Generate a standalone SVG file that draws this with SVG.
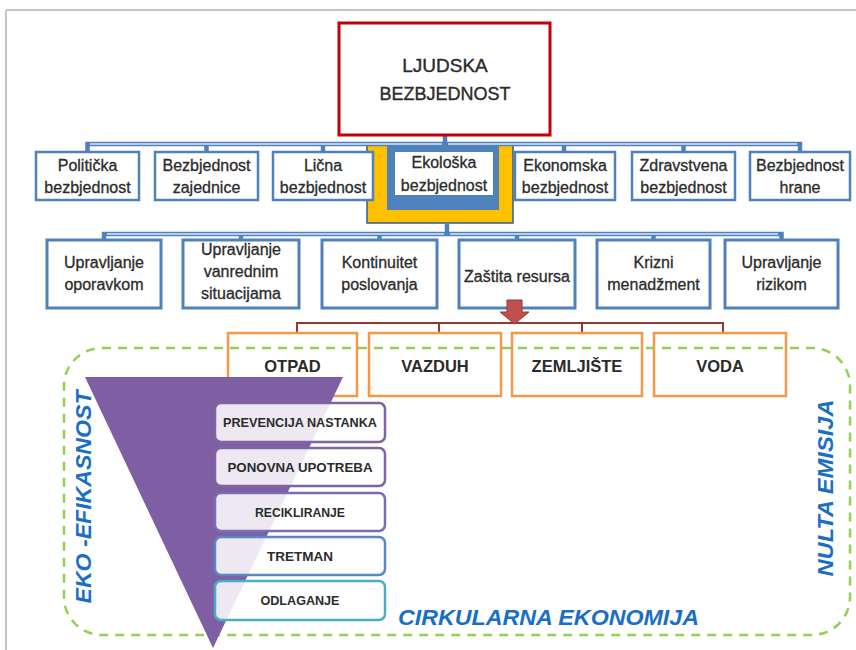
<svg xmlns="http://www.w3.org/2000/svg" width="856" height="650" viewBox="0 0 856 650">
<style>
  .t { font-family: "Liberation Sans", Arial, sans-serif; fill: #2b2b2b; text-anchor: middle; }
  .r2 { font-size: 16px; stroke: #2b2b2b; stroke-width: 0.3; }
  .top { font-size: 19px; stroke: #2b2b2b; stroke-width: 0.4; }
  .org { font-size: 16.5px; font-weight: bold; }
  .stk { font-size: 12.5px; font-weight: bold; }
  .blue { font-family: "Liberation Sans", Arial, sans-serif; font-size: 22px; font-weight: bold; font-style: italic; fill: #1a6fc4; text-anchor: middle; }
  .bx { fill: #ffffff; stroke: #4f81bd; stroke-width: 2.5; }
  .bx3 { fill: #ffffff; stroke: #4f81bd; stroke-width: 3; }
  .ob { fill: #ffffff; stroke: #f79646; stroke-width: 2.5; }
  .sb { fill: #ffffff; fill-opacity: 0.86; stroke-width: 2.5; }
  .conn { fill: none; stroke: #4f81bd; stroke-width: 4.5; }
  .connIn { fill: none; stroke: #dce6f2; stroke-width: 1.4; }
  .red { fill: none; stroke: #953735; stroke-width: 2; }
</style>

<!-- frame -->
<line x1="6" y1="10" x2="856" y2="10" stroke="#c4c4c4" stroke-width="2"/>
<line x1="6" y1="10" x2="6" y2="650" stroke="#c4c4c4" stroke-width="2"/>

<!-- yellow highlight behind Ekološka -->
<rect x="367" y="145" width="146" height="78" fill="#ffc000" stroke="#2e5d9a" stroke-width="1.5"/>

<g id="connectors">
  <path class="conn" d="M445 135 V144 M87.5 152 V144 H800 V152 M206.5 144 V152 M323 144 V152 M564 144 V152 M683.5 144 V152"/>
  <path class="connIn" d="M90 144 H442 M448 144 H797"/>
  <path class="conn" d="M447 223 V234 M104 240 V234 H781.5 V240 M241 234 V240 M379.5 234 V240 M517 234 V240 M653.5 234 V240"/>
  <path class="connIn" d="M107 234 H444 M450 234 H778"/>
  <path class="red" d="M297 333 V323 H723 V333 M439 323 V333 M582 323 V333"/>
</g>

<g id="ljudska">
  <rect x="339" y="23" width="211" height="112" fill="#ffffff" stroke="#c0000c" stroke-width="3"/>
  <text class="t top" x="445" y="72">LJUDSKA</text>
  <text class="t top" x="445" y="100" textLength="131" lengthAdjust="spacingAndGlyphs">BEZBJEDNOST</text>
</g>

<g id="politicka">
  <rect class="bx" x="36" y="152" width="103" height="48"/>
  <text class="t r2" x="87.5" y="171">Politička</text>
  <text class="t r2" x="87.5" y="193">bezbjednost</text>
</g>
<g id="zajednice">
  <rect class="bx" x="155" y="152" width="103" height="48"/>
  <text class="t r2" x="206.5" y="171">Bezbjednost</text>
  <text class="t r2" x="206.5" y="193">zajednice</text>
</g>
<g id="licna">
  <rect class="bx" x="273" y="152" width="100" height="48"/>
  <text class="t r2" x="323" y="171">Lična</text>
  <text class="t r2" x="323" y="193">bezbjednost</text>
</g>
<g id="ekoloska">
  <rect x="387" y="145" width="112" height="65" fill="#4f81bd"/>
  <rect x="395" y="152" width="98" height="43" fill="#ffffff"/>
  <text class="t r2" x="444" y="168">Ekološka</text>
  <text class="t r2" x="444" y="191">bezbjednost</text>
</g>
<g id="ekonomska">
  <rect class="bx" x="515" y="152" width="100" height="48"/>
  <text class="t r2" x="565" y="171">Ekonomska</text>
  <text class="t r2" x="565" y="193">bezbjednost</text>
</g>
<g id="zdravstvena">
  <rect class="bx" x="632" y="152" width="103" height="48"/>
  <text class="t r2" x="683.5" y="171">Zdravstvena</text>
  <text class="t r2" x="683.5" y="193">bezbjednost</text>
</g>
<g id="hrane">
  <rect class="bx" x="750" y="152" width="100" height="48"/>
  <text class="t r2" x="800" y="171">Bezbjednost</text>
  <text class="t r2" x="800" y="193">hrane</text>
</g>

<g id="oporavkom">
  <rect class="bx3" x="47" y="240" width="114" height="68"/>
  <text class="t r2" x="104" y="268">Upravljanje</text>
  <text class="t r2" x="104" y="290">oporavkom</text>
</g>
<g id="vanrednim">
  <rect class="bx3" x="183" y="240" width="116" height="68"/>
  <text class="t r2" x="241" y="255">Upravljanje</text>
  <text class="t r2" x="241" y="277">vanrednim</text>
  <text class="t r2" x="241" y="299">situacijama</text>
</g>
<g id="kontinuitet">
  <rect class="bx3" x="322" y="240" width="115" height="68"/>
  <text class="t r2" x="379.5" y="268">Kontinuitet</text>
  <text class="t r2" x="379.5" y="290">poslovanja</text>
</g>
<g id="zastita">
  <rect class="bx3" x="459" y="240" width="116" height="68"/>
  <text class="t r2" x="517" y="282">Zaštita resursa</text>
</g>
<g id="krizni">
  <rect class="bx3" x="597" y="240" width="113" height="68"/>
  <text class="t r2" x="653.5" y="268">Krizni</text>
  <text class="t r2" x="653.5" y="290">menadžment</text>
</g>
<g id="rizikom">
  <rect class="bx3" x="725" y="240" width="113" height="68"/>
  <text class="t r2" x="781.5" y="268">Upravljanje</text>
  <text class="t r2" x="781.5" y="290">rizikom</text>
</g>

<!-- red arrow from Zaštita resursa -->
<polygon id="red-arrow" points="507,300 522,300 522,312 529,312 514.5,324 500,312 507,312" fill="#c0504d" stroke="#953735" stroke-width="1"/>

<g id="otpad">
  <rect class="ob" x="228" y="333" width="129" height="63"/>
  <text class="t org" x="292.5" y="372">OTPAD</text>
</g>
<g id="vazduh">
  <rect class="ob" x="369" y="333" width="132" height="63"/>
  <text class="t org" x="435" y="372">VAZDUH</text>
</g>
<g id="zemljiste">
  <rect class="ob" x="512" y="333" width="130" height="63"/>
  <text class="t org" x="577" y="372">ZEMLJIŠTE</text>
</g>
<g id="voda">
  <rect class="ob" x="654" y="333" width="132" height="63"/>
  <text class="t org" x="720" y="372">VODA</text>
</g>

<!-- circular economy dashed region -->
<rect x="64" y="348" width="786" height="287" rx="38" ry="38" fill="none" stroke="#92d050" stroke-width="2.5" stroke-dasharray="9 7"/>

<!-- waste hierarchy triangle -->
<polygon points="85,377 343,377 213,648" fill="#7e5fa3"/>

<g id="prevencija">
  <rect class="sb" x="215" y="403" width="170" height="39" rx="6" stroke="#8064a2"/>
  <text class="t stk" x="300" y="427" textLength="154" lengthAdjust="spacingAndGlyphs">PREVENCIJA NASTANKA</text>
</g>
<g id="ponovna">
  <rect class="sb" x="215" y="448" width="170" height="38" rx="6" stroke="#8064a2"/>
  <text class="t stk" x="300" y="471.5" textLength="145" lengthAdjust="spacingAndGlyphs">PONOVNA UPOTREBA</text>
</g>
<g id="recikliranje">
  <rect class="sb" x="215" y="493" width="170" height="38" rx="6" stroke="#7a6db3"/>
  <text class="t stk" x="300" y="516.5" textLength="90" lengthAdjust="spacingAndGlyphs">RECIKLIRANJE</text>
</g>
<g id="tretman">
  <rect class="sb" x="215" y="537" width="170" height="38" rx="6" stroke="#5a87c4"/>
  <text class="t stk" x="300" y="560.5" textLength="66" lengthAdjust="spacingAndGlyphs">TRETMAN</text>
</g>
<g id="odlaganje">
  <rect class="sb" x="215" y="581" width="170" height="39" rx="6" stroke="#4bacc6"/>
  <text class="t stk" x="300" y="605" textLength="79" lengthAdjust="spacingAndGlyphs">ODLAGANJE</text>
</g>

<text class="blue" transform="translate(91,497) rotate(-90)" x="0" y="0" textLength="213" lengthAdjust="spacingAndGlyphs">EKO -EFIKASNOST</text>
<text class="blue" transform="translate(833,488) rotate(-90)" x="0" y="0" textLength="177" lengthAdjust="spacingAndGlyphs">NULTA EMISIJA</text>
<text class="blue" x="548.5" y="625" textLength="301" lengthAdjust="spacingAndGlyphs">CIRKULARNA EKONOMIJA</text>
</svg>
